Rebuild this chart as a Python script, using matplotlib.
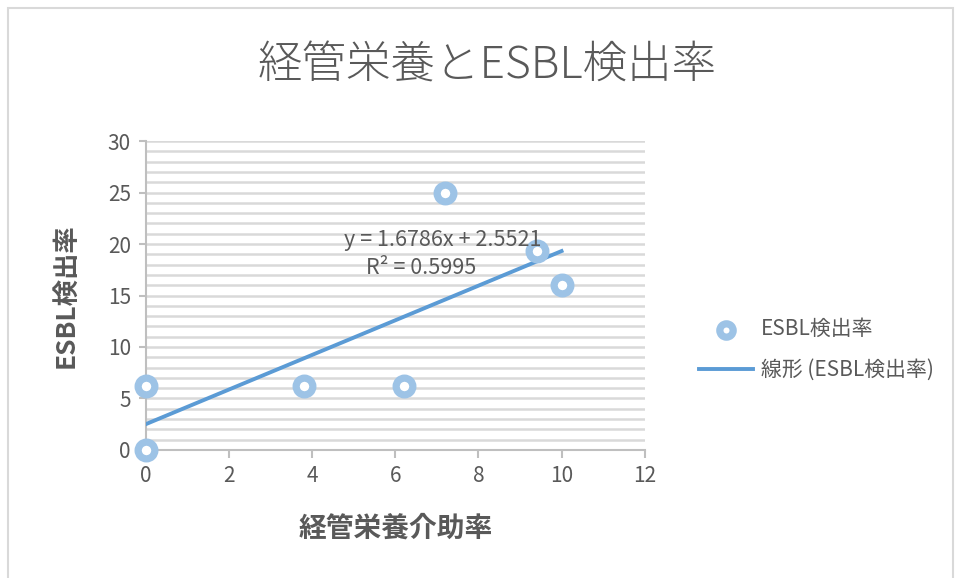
import matplotlib
matplotlib.use("Agg")
import matplotlib.pyplot as plt
import numpy as np
from matplotlib.patches import Rectangle

plt.rcParams['font.family'] = ['Noto Sans CJK JP', 'DejaVu Sans']

# データ
kaijo = [0, 0, 3.8, 6.2, 7.2, 9.4, 10]
esbl = [0, 6.25, 6.25, 6.25, 25, 19.35, 16]
x_ticks = [0, 2, 4, 6, 8, 10, 12]
y_ticks = [0, 5, 10, 15, 20, 25, 30]
eq_text = "y = 1.6786x + 2.5521"
r2_text = "R² = 0.5995"

gray = '#595959'
grid_col = '#D9D9D9'
pt_col = '#9DC3E6'
line_col = '#5B9BD5'

fig = plt.figure(figsize=(9.55, 5.78), dpi=100)
ax = fig.add_axes([0.153, 0.2215, 0.522, 0.5345])

# 枠
fig.patches.append(Rectangle((8/955, -0.01), 0.99, 1 - 8/578 + 0.01, transform=fig.transFigure,
                             fill=False, edgecolor='#D9D9D9', lw=1.5))

# 近似直線
a, b = np.polyfit(kaijo, esbl, 1)
xs = np.array([min(kaijo), max(kaijo)])
ax.plot(xs, a * xs + b, color=line_col, lw=2.8, zorder=3, label='線形 (ESBL検出率)')
ax.scatter(kaijo, esbl, s=145, facecolor='white', edgecolor=pt_col, linewidth=5.2, zorder=4,
           label='ESBL検出率', clip_on=False)

ax.set_xlim(0, 12)
ax.set_ylim(0, 30)
ax.set_xticks(x_ticks)
ax.set_yticks(y_ticks)
ax.set_yticks(np.arange(0, 31, 1), minor=True)
ax.grid(axis='y', which='both', color=grid_col, lw=1.8, zorder=0)
ax.set_axisbelow(True)
for s in ['top', 'right']:
    ax.spines[s].set_visible(False)
for s in ['left', 'bottom']:
    ax.spines[s].set_color('#BFBFBF')
    ax.spines[s].set_linewidth(1.5)
ax.tick_params(axis='x', colors='#BFBFBF', labelcolor=gray, labelsize=15, length=6, width=1.5, pad=5)
ax.tick_params(axis='y', colors='#BFBFBF', labelcolor=gray, labelsize=15, length=5, width=1.5, pad=6)
ax.tick_params(axis='y', which='minor', length=0)

ax.text(7.14, 20.4, eq_text, ha='center', va='center', fontsize=15.5, color=gray, zorder=5)
ax.text(6.63, 17.7, r2_text, ha='center', va='center', fontsize=15.5, color=gray, zorder=5)

ax.set_xlabel('経管栄養介助率', fontsize=20, fontweight='bold', color=gray, labelpad=20)
ax.set_ylabel('ESBL検出率', fontsize=19, fontweight='bold', color=gray, labelpad=20)

fig.text(0.51, 0.885, '経管栄養とESBL検出率', ha='center', va='center', fontsize=32,
         color=gray, fontweight='light')

h, l = ax.get_legend_handles_labels()
leg = fig.legend(handles=h[::-1], labels=l[::-1],
                 loc='center left', bbox_to_anchor=(0.712, 0.395), frameon=False,
                 fontsize=15, labelcolor=gray, handlelength=2.6, labelspacing=0.9,
                 handletextpad=0.4, markerscale=0.8)

fig.savefig('out.png', dpi=100)
